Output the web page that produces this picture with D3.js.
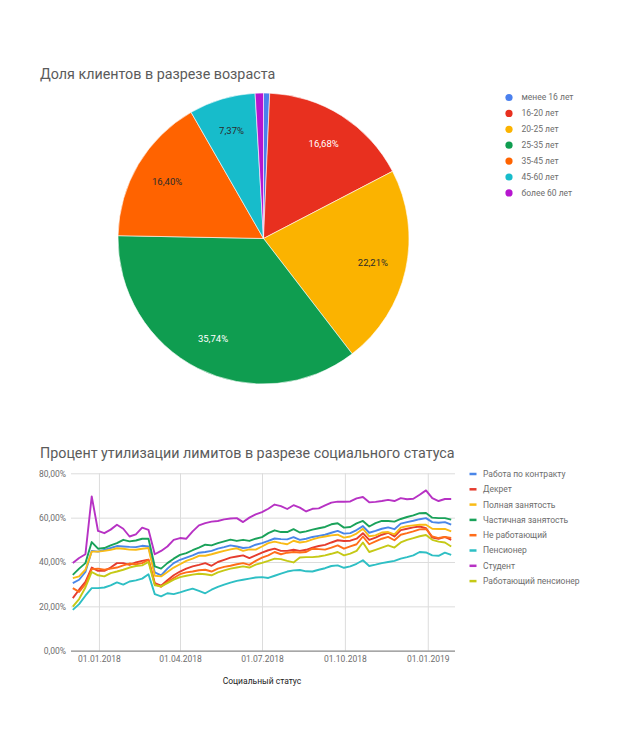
<!DOCTYPE html>
<html>
<head>
<meta charset="utf-8">
<script src="https://cdn.jsdelivr.net/npm/d3@7"></script>
<style>
  body { margin: 0; background: #fff; font-family: Roboto, Arial, sans-serif; }
  svg text { font-family: Roboto, Arial, sans-serif; }
</style>
</head>
<body>
<svg id="chart" width="617" height="750"></svg>
<script>
// ---- pie: age groups ----
const ageGroups = ['менее 16 лет', '16-20 лет', '20-25 лет', '25-35 лет', '35-45 лет', '45-60 лет', 'более 60 лет'];
const ageShares = [0.68, 16.68, 22.21, 35.74, 16.40, 7.37, 0.92];
const ageColors = ['#4a80ee', '#e8301f', '#fbb300', '#0f9d50', '#ff6300', '#17bccb', '#b616cf'];
const ageLabelDark = [false, false, true, false, true, true, false];

// ---- lines: utilisation by social status (weekly) ----
const statusNames = ['Работа по контракту', 'Декрет', 'Полная занятость', 'Частичная занятость',
  'Не работающий', 'Пенсионер', 'Студент', 'Работающий пенсионер'];
const statusColors = ['#4a86e8', '#e53c2e', '#f9bb16', '#1aa25a', '#ff6d1a', '#2ebfc4', '#b732c4', '#c5c916'];
const firstWeek = '2017-12-03';
const weekCount = 61;
const xDomain = ['2017-12-01', '2019-01-29'];

const contractVals = [30.5, 32, 35.5, 45, 44.7, 45.5, 46.3, 47.2, 47, 46.8, 46.7, 47.3, 47, 35.3, 34,
  37, 39.5, 41, 42, 43, 44.2, 44.5, 45, 46, 46.7, 47.5, 47, 46.3, 46.6, 47.8, 48.5,
  49.5, 50.6, 50.3, 50.2, 51.2, 50, 50.5, 51.3, 51.8, 52.3, 53.2, 54, 52.8, 53, 54.4,
  56.2, 53.2, 54, 55, 55.6, 54.8, 57.3, 58, 58.6, 59.3, 59.8, 58, 57.7, 58, 56.8];
const maternityVals = [23.7, 27.5, 31, 37.5, 36, 36, 37.5, 39.5, 39.5, 38.7, 39.8, 40.5, 41, 30.5, 29.3,
  31.8, 34, 35.7, 37, 38, 38.7, 39.5, 38.3, 40, 41, 42, 42.5, 43, 41.8, 43, 44.2,
  45.3, 46, 45, 45, 45.5, 45, 45.5, 46.5, 47.2, 47.7, 48.8, 49.8, 49.5, 49.6, 50.5,
  53, 50, 51, 52.3, 53.2, 51.5, 54.4, 55, 55.6, 56, 55.3, 51, 50.5, 51.3, 50];
const fullTimeVals = [32.7, 33.5, 36.5, 44.7, 44.7, 45, 45.5, 46.2, 46, 45.6, 45.5, 46, 46.3, 33.8, 33.5,
  35.5, 37.5, 39, 40.5, 41.5, 42.8, 42.8, 43.5, 44.3, 45, 45.7, 46.2, 45, 45.7, 45.6, 47,
  48.5, 49.2, 48.5, 48, 49.6, 48.8, 49.2, 50.2, 51, 51.5, 52, 52.3, 51, 51.5, 52.8,
  55, 51.6, 52, 53.3, 53.5, 52.5, 55.5, 56.2, 56.5, 56.8, 56.8, 55, 54.9, 54.9, 53.8];
const partTimeVals = [34.2, 37, 39.5, 49, 46, 46.3, 47.5, 48.5, 50, 49.3, 49.7, 50.5, 50.5, 38, 37,
  39.5, 41.5, 43.2, 44, 45.3, 46.5, 47.8, 47.5, 48.5, 49.3, 50.1, 49.5, 50, 49.5, 50.5, 51.2,
  53, 54.3, 53.5, 53.5, 54.8, 53.3, 53.8, 54.6, 55.2, 55.8, 57, 57.5, 55.5, 55.8, 57.4,
  58.5, 56, 57.5, 58.5, 58.5, 58.2, 59.4, 60.3, 61, 62, 62.1, 60, 59.8, 59.8, 59.1];
const unemployedVals = [28.2, 26.5, 30, 36.8, 37, 36.5, 37, 37.5, 38.5, 39.3, 39, 39.5, 41, 30, 28.8,
  31, 32.8, 34.5, 35.3, 35.7, 36.3, 36.5, 35.7, 37, 37.8, 38.3, 39, 39.5, 38.7, 40.5, 42,
  43, 44.5, 43.5, 44.2, 44.5, 44.3, 44.5, 46, 45.8, 45.6, 46.5, 47.5, 46, 47, 48,
  51.5, 48, 49.3, 50.5, 51.3, 49.8, 52.3, 53, 53.8, 54.7, 54.9, 51.5, 50.8, 51.3, 50.8];
const pensionerVals = [18.4, 21, 24.8, 28.2, 28.2, 28.5, 29.5, 30.8, 29.8, 31.2, 31.7, 32.5, 34.5, 25.5, 24.5,
  25.9, 25.5, 26.3, 27.2, 28, 27, 25.9, 27.5, 28.8, 29.8, 30.7, 31.5, 32, 32.5, 33, 33.2,
  32.8, 33.8, 34.8, 35.7, 36.2, 36.4, 35.8, 35.7, 36.5, 37.2, 38.2, 38.5, 37.4, 38, 39.2,
  40.8, 38.2, 38.8, 39.5, 40, 40.5, 41.5, 42.2, 43, 44.5, 44.3, 43, 42.8, 44.2, 43.2];
const studentVals = [39.5, 41.8, 43.5, 69.6, 54, 53, 54.6, 56.8, 55, 51.5, 52.5, 55.5, 54.5, 43.5, 45,
  47, 50, 50.8, 50.5, 53.8, 56.5, 57.5, 58.2, 58.5, 59.2, 59.6, 59.8, 58, 60, 61.5, 62.5,
  64, 65.9, 65.2, 63.9, 65.6, 64.5, 62.8, 64, 64.2, 65.5, 66.8, 67.2, 67.2, 67.3, 68.7,
  69.3, 66.9, 67.1, 67.5, 68, 67.5, 68.8, 68.3, 68.5, 70.3, 72.3, 68.8, 67.5, 68.4, 68.4];
const workingPensionerVals = [19.9, 23.3, 28.5, 35.5, 34, 33.5, 35, 35.7, 36.5, 37.5, 38.2, 38.5, 40, 29.5, 29,
  30.5, 32, 33.2, 33.8, 34.3, 34.7, 34.5, 34, 35.3, 36.2, 37, 37.5, 38, 37.5, 38.8, 39.6,
  40.5, 41.5, 41.3, 40.5, 39.8, 42, 42.2, 42.2, 42.5, 43, 43.7, 44.5, 43, 43.8, 45,
  48.8, 44.5, 45.5, 46.5, 47.5, 46.5, 48.8, 50, 50.8, 51.6, 52.2, 50, 49.2, 48.8, 47];

const yTicks = [0, 20, 40, 60, 80];
const xTickDates = ['2018-01-01', '2018-04-01', '2018-07-01', '2018-10-01', '2019-01-01'];

const seriesVals = [contractVals, maternityVals, fullTimeVals, partTimeVals,
  unemployedVals, pensionerVals, studentVals, workingPensionerVals];

const ru = d3.formatLocale({ decimal: ',', thousands: ' ', grouping: [3], currency: ['', ''] });
const pct = v => ru.format('.2f')(v) + '%';

const svg = d3.select('#chart');

// ================= PIE =================
svg.append('text')
  .attr('x', 40).attr('y', 79)
  .attr('font-size', 14.3).attr('fill', '#5b5b5b')
  .text('Доля клиентов в разрезе возраста');

const pieCx = 263.5, pieCy = 238.5, pieR = 145.5;
const pieData = d3.pie().sort(null).value(d => d)(ageShares);
const arc = d3.arc().innerRadius(0).outerRadius(pieR);
const labelArc = d3.arc().innerRadius(pieR * 0.77).outerRadius(pieR * 0.77);

const pieG = svg.append('g').attr('transform', `translate(${pieCx},${pieCy})`);
pieG.selectAll('path')
  .data(pieData).join('path')
  .attr('d', arc)
  .attr('fill', (d, i) => ageColors[i])
  .attr('stroke', '#fff').attr('stroke-width', 0.6);

pieG.selectAll('text')
  .data(pieData.filter(d => d.data > 5)).join('text')
  .attr('transform', d => `translate(${labelArc.centroid(d)})`)
  .attr('text-anchor', 'middle').attr('dy', '0.35em')
  .attr('font-size', 9.5)
  .attr('fill', d => ageLabelDark[d.index] ? '#2b2b2b' : '#fff')
  .text(d => pct(d.data));

const pieLegend = svg.append('g').selectAll('g')
  .data(ageGroups).join('g')
  .attr('transform', (d, i) => `translate(509,${97.5 + i * 15.9})`);
pieLegend.append('circle').attr('r', 3.6).attr('fill', (d, i) => ageColors[i]);
pieLegend.append('text')
  .attr('x', 12.5).attr('dy', '0.35em')
  .attr('font-size', 8.5).attr('fill', '#6d6d6d')
  .text(d => d);

// ================= LINES =================
svg.append('text')
  .attr('x', 40).attr('y', 458)
  .attr('font-size', 14.3).attr('fill', '#5b5b5b')
  .text('Процент утилизации лимитов в разрезе социального статуса');

const parse = d3.timeParse('%Y-%m-%d');
const start = parse(firstWeek);
const dates = d3.range(weekCount).map(i => d3.timeDay.offset(start, i * 7));
const plotL = 71, plotR = 453, plotT = 473.3, plotB = 650.7;

const x = d3.scaleTime().domain(xDomain.map(parse)).range([plotL, plotR]);
const y = d3.scaleLinear().domain([0, 80]).range([plotB, plotT]);

// vertical grid + x labels
const xAxis = svg.append('g')
  .attr('transform', `translate(0,${plotB})`)
  .call(d3.axisBottom(x)
    .tickValues(xTickDates.map(parse))
    .tickSize(-(plotB - plotT))
    .tickFormat(d3.timeFormat('%d.%m.%Y')));
xAxis.select('.domain').remove();
xAxis.selectAll('.tick line').attr('stroke', '#dcdcdc');
xAxis.selectAll('.tick text')
  .attr('y', 5.5).attr('font-size', 8.5).attr('fill', '#6d6d6d')
  .attr('font-family', 'Roboto, Arial, sans-serif');

// horizontal grid + y labels
const yAxis = svg.append('g')
  .attr('transform', `translate(${plotL},0)`)
  .call(d3.axisLeft(y)
    .tickValues(yTicks)
    .tickSize(-(plotR + 2 - plotL))
    .tickFormat(pct));
yAxis.select('.domain').remove();
yAxis.selectAll('.tick line').attr('stroke', d => d === 0 ? '#8a8a8a' : '#dcdcdc')
  .attr('stroke-width', d => d === 0 ? 1.2 : 1);
yAxis.selectAll('.tick text')
  .attr('x', -5).attr('font-size', 8.5).attr('fill', '#6d6d6d')
  .attr('font-family', 'Roboto, Arial, sans-serif');

const line = d3.line()
  .x((d, i) => x(dates[i]))
  .y(d => y(d));

svg.append('g').selectAll('path')
  .data(seriesVals).join('path')
  .attr('d', d => line(d))
  .attr('fill', 'none')
  .attr('stroke', (d, i) => statusColors[i])
  .attr('stroke-width', 1.9)
  .attr('stroke-linejoin', 'round');

svg.append('text')
  .attr('x', (plotL + plotR) / 2).attr('y', 684)
  .attr('text-anchor', 'middle')
  .attr('font-size', 8.5).attr('fill', '#222')
  .text('Социальный статус');

const lineLegend = svg.append('g').selectAll('g')
  .data(statusNames).join('g')
  .attr('transform', (d, i) => `translate(469.5,${474 + i * 15.3})`);
lineLegend.append('line')
  .attr('x1', 0).attr('x2', 7)
  .attr('stroke', (d, i) => statusColors[i]).attr('stroke-width', 2.5);
lineLegend.append('text')
  .attr('x', 13.5).attr('dy', '0.35em')
  .attr('font-size', 8.5).attr('fill', '#6d6d6d')
  .text(d => d);
</script>
</body>
</html>
